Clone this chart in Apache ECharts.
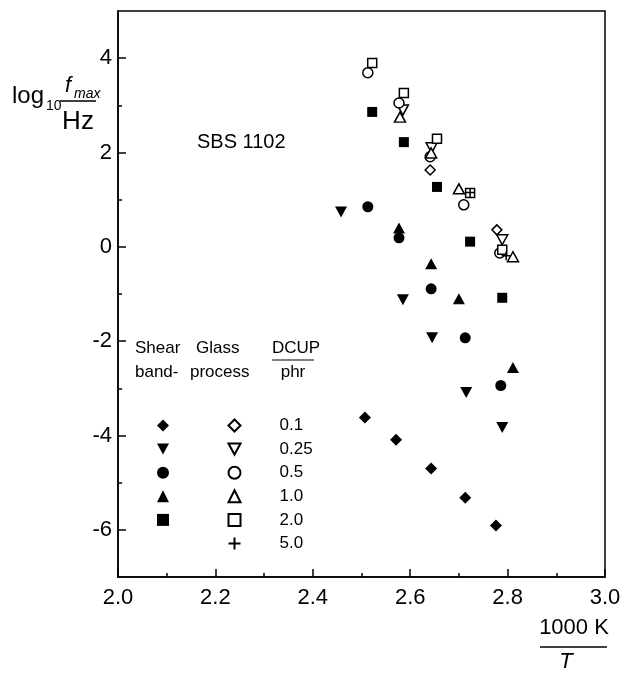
<!DOCTYPE html>
<html>
<head>
<meta charset="utf-8">
<script src="https://cdn.jsdelivr.net/npm/echarts@6/dist/echarts.min.js"></script>
<style>
  html, body { margin: 0; padding: 0; background: #fff; }
  #grafico { width: 628px; height: 674px; }
</style>
</head>
<body>
<div id="grafico"></div>
<script>
// x = 1000 K / T, y = log10(fmax / Hz)
var dcup = ['0.1', '0.25', '0.5', '1.0', '2.0', '5.0'];

// shear band process (filled symbols)
var bandDiamond = [[2.507, -3.62], [2.571, -4.09], [2.643, -4.70], [2.713, -5.32], [2.776, -5.91]];
var bandDown = [[2.458, 0.74], [2.585, -1.12], [2.645, -1.93], [2.715, -3.09], [2.789, -3.83]];
var bandCircle = [[2.513, 0.85], [2.577, 0.19], [2.643, -0.89], [2.713, -1.93], [2.786, -2.94]];
var bandUp = [[2.577, 0.40], [2.643, -0.36], [2.700, -1.10], [2.811, -2.56]];
var bandSquare = [[2.522, 2.86], [2.587, 2.22], [2.655, 1.27], [2.723, 0.11], [2.789, -1.08]];

// glass process (open symbols)
var glassDiamond = [[2.641, 1.63], [2.778, 0.36]];
var glassDown = [[2.585, 2.90], [2.644, 2.10], [2.789, 0.15]];
var glassCircle = [[2.513, 3.69], [2.577, 3.05], [2.641, 1.91], [2.710, 0.89], [2.784, -0.13]];
var glassUp = [[2.579, 2.75], [2.643, 1.99], [2.700, 1.23], [2.811, -0.21]];
var glassSquare = [[2.522, 3.90], [2.587, 3.26], [2.655, 2.29], [2.723, 1.14], [2.789, -0.06]];
var glassPlus = [[2.723, 1.15], [2.797, -0.19]];

var yMajor = [-6, -4, -2, 0, 2, 4];
var yMinor = [-5, -3, -1, 1, 3];

var font = "'Liberation Sans', Arial, Helvetica, sans-serif";
var plus = 'path://M5,0 L5,10 M0,5 L10,5';
var down = 'path://M0,0 L12,0 L6,11 Z';

function band(name, data, symbol, size) {
  return {
    name: 'band ' + name, type: 'scatter', data: data,
    symbol: symbol, symbolSize: size,
    itemStyle: { color: '#000', opacity: 1 }
  };
}
function glass(name, data, symbol, size) {
  return {
    name: 'glass ' + name, type: 'scatter', data: data,
    symbol: symbol, symbolSize: size,
    itemStyle: { color: symbol === plus ? 'none' : '#fff', borderColor: '#000', borderWidth: 1.5, opacity: 1 }
  };
}

var chartDom = document.getElementById('grafico');
var myChart = echarts.init(chartDom);
var option;
option = {
  animation: false,
  textStyle: { fontFamily: font },
  grid: {
    left: 118, right: 23, top: 11, bottom: 97,
    show: true, borderColor: '#000', borderWidth: 1.5,
    outerBoundsMode: 'none'
  },
  xAxis: {
    type: 'value', min: 2.0, max: 3.0, interval: 0.2,
    axisLine: { onZero: false, lineStyle: { color: '#000', width: 1.5 } },
    axisTick: { inside: true, length: 8, lineStyle: { color: '#000', width: 1.5 } },
    minorTick: { show: true, splitNumber: 2, length: 4, lineStyle: { color: '#000', width: 1.5 } },
    splitLine: { show: false },
    axisLabel: {
      color: '#000', fontSize: 22, margin: 10, fontFamily: font,
      formatter: function (v) { return v.toFixed(1); }
    }
  },
  yAxis: [
    {
      type: 'value', min: -7, max: 5, interval: 1,
      axisLine: { onZero: false, lineStyle: { color: '#000', width: 1.5 } },
      axisTick: { inside: true, length: 8, customValues: yMajor, lineStyle: { color: '#000', width: 1.5 } },
      splitLine: { show: false },
      axisLabel: { color: '#000', fontSize: 22, margin: 6, fontFamily: font, customValues: yMajor }
    },
    {
      type: 'value', min: -7, max: 5, interval: 1, position: 'left',
      axisLine: { show: false, onZero: false },
      axisTick: { inside: true, length: 4, customValues: yMinor, lineStyle: { color: '#000', width: 1.5 } },
      splitLine: { show: false },
      axisLabel: { show: false }
    }
  ],
  legend: [
    {
      data: ['band 0.1', 'band 0.25', 'band 0.5', 'band 1.0', 'band 2.0'],
      orient: 'vertical', left: 152, top: 412,
      itemWidth: 12, itemHeight: 12, itemGap: 6.6,
      formatter: function () { return ' '; },
      textStyle: { fontSize: 17, lineHeight: 16 }
    },
    {
      data: dcup.map(function (d) { return 'glass ' + d; }),
      orient: 'vertical', left: 221, top: 412,
      itemWidth: 12, itemHeight: 12, itemGap: 6.6,
      formatter: function (name) { return name.split(' ')[1]; },
      textStyle: { fontSize: 17, lineHeight: 16, color: '#000', fontFamily: font, padding: [0, 0, 0, 34] }
    }
  ],
  graphic: [
    { type: 'text', x: 12, y: 96, style: { text: 'log', font: '24px ' + font, fill: '#000', verticalAlign: 'middle' } },
    { type: 'text', x: 46, y: 106, style: { text: '10', font: '14px ' + font, fill: '#000', verticalAlign: 'middle' } },
    { type: 'text', x: 65, y: 86, style: { text: 'f', font: 'italic 22px ' + font, fill: '#000', verticalAlign: 'middle' } },
    { type: 'text', x: 74, y: 94, style: { text: 'max', font: 'italic 14px ' + font, fill: '#000', verticalAlign: 'middle' } },
    { type: 'line', shape: { x1: 60, y1: 101, x2: 96, y2: 101 }, style: { stroke: '#000', lineWidth: 1.5 } },
    { type: 'text', x: 78, y: 122, style: { text: 'Hz', font: '26px ' + font, fill: '#000', align: 'center', verticalAlign: 'middle' } },
    { type: 'text', x: 197, y: 142, style: { text: 'SBS 1102', font: '20px ' + font, fill: '#000', verticalAlign: 'middle' } },
    { type: 'text', x: 135, y: 348, style: { text: 'Shear', font: '17px ' + font, fill: '#000', verticalAlign: 'middle' } },
    { type: 'text', x: 135, y: 372, style: { text: 'band-', font: '17px ' + font, fill: '#000', verticalAlign: 'middle' } },
    { type: 'text', x: 196, y: 348, style: { text: 'Glass', font: '17px ' + font, fill: '#000', verticalAlign: 'middle' } },
    { type: 'text', x: 190, y: 372, style: { text: 'process', font: '17px ' + font, fill: '#000', verticalAlign: 'middle' } },
    { type: 'text', x: 272, y: 348, style: { text: 'DCUP', font: '17px ' + font, fill: '#000', verticalAlign: 'middle' } },
    { type: 'line', shape: { x1: 272, y1: 360, x2: 314, y2: 360 }, style: { stroke: '#000', lineWidth: 1.2 } },
    { type: 'text', x: 293, y: 372, style: { text: 'phr', font: '17px ' + font, fill: '#000', align: 'center', verticalAlign: 'middle' } },
    { type: 'text', x: 574, y: 628, style: { text: '1000 K', font: '22px ' + font, fill: '#000', align: 'center', verticalAlign: 'middle' } },
    { type: 'line', shape: { x1: 540, y1: 647, x2: 607, y2: 647 }, style: { stroke: '#000', lineWidth: 1.5 } },
    { type: 'text', x: 566, y: 662, style: { text: 'T', font: 'italic 22px ' + font, fill: '#000', align: 'center', verticalAlign: 'middle' } }
  ],
  series: [
    band('0.1', bandDiamond, 'diamond', 12),
    band('0.25', bandDown, down, [12, 11]),
    band('0.5', bandCircle, 'circle', 11),
    band('1.0', bandUp, 'triangle', [12, 11]),
    band('2.0', bandSquare, 'rect', 10),
    glass('0.1', glassDiamond, 'diamond', 10),
    glass('0.25', glassDown, down, [11, 10]),
    glass('0.5', glassCircle, 'circle', 10),
    glass('1.0', glassUp, 'triangle', [11, 10]),
    glass('2.0', glassSquare, 'rect', 9),
    glass('5.0', glassPlus, plus, 9)
  ]
};

option && myChart.setOption(option);
</script>
</body>
</html>
